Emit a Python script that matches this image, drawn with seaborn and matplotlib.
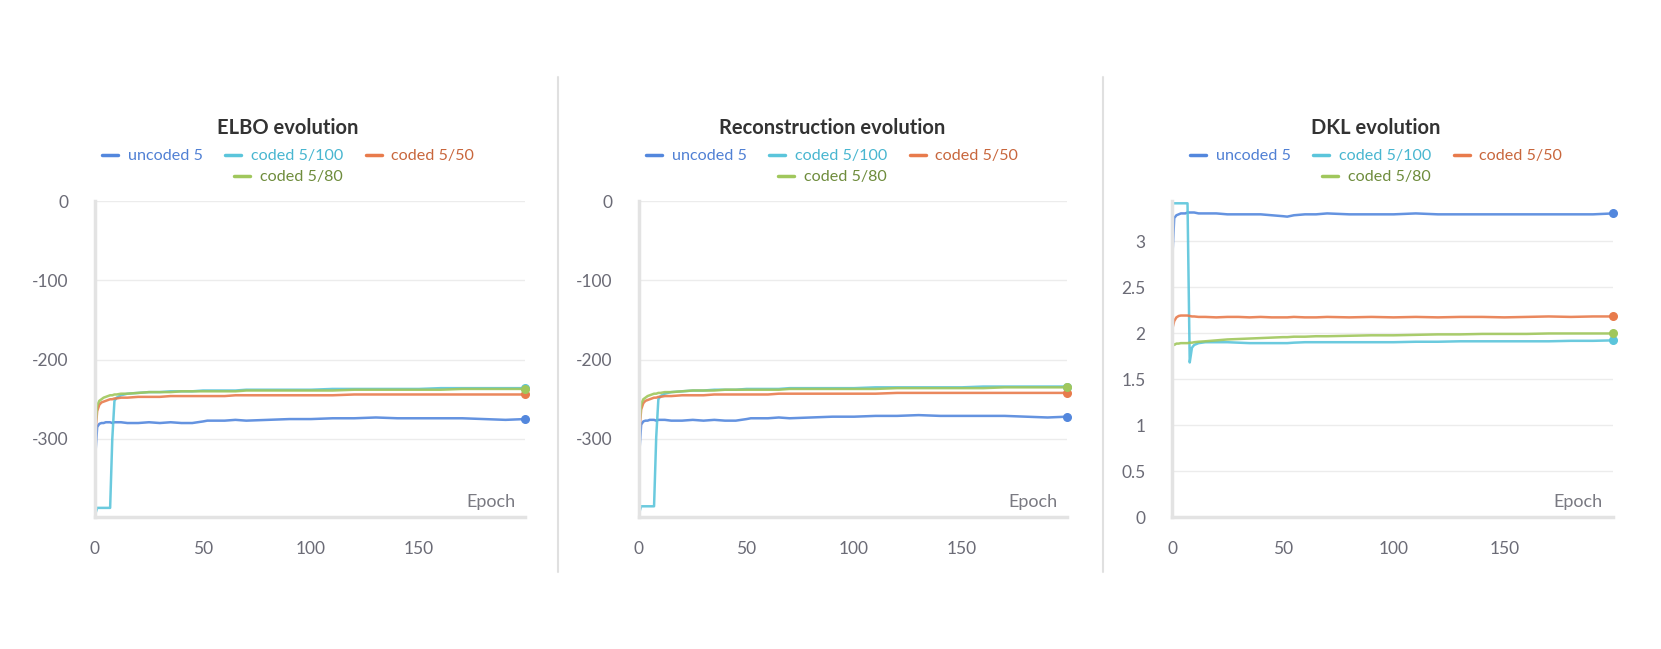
import pandas as pd
import seaborn as sns
import matplotlib.pyplot as plt
from matplotlib.lines import Line2D

epochs = [0, 1, 2, 3, 4, 5, 6, 7, 8, 9, 10, 12, 15, 20, 25, 30, 35, 40, 45, 50,
          52, 55, 60, 65, 70, 80, 90, 100, 110, 120, 130, 140, 150, 160, 170, 180, 190, 199]

runs = ["uncoded 5", "coded 5/100", "coded 5/50", "coded 5/80"]

elbo_uncoded = [-327, -285, -281, -280, -280, -279, -279, -279, -280, -279, -279, -279, -280, -280,
                -279, -280, -279, -280, -280, -278, -277, -277, -277, -276, -277, -276, -275, -275,
                -274, -274, -273, -274, -274, -274, -274, -275, -276, -275]
elbo_c100 = [-396, -387, -387, -387, -387, -387, -387, -387, -300, -252, -248, -245, -243, -242,
             -241, -241, -240, -240, -240, -239, -239, -239, -239, -239, -238, -238, -238, -238,
             -237, -237, -237, -237, -237, -236, -236, -236, -236, -236]
elbo_c50 = [-300, -265, -257, -254, -253, -252, -251, -250, -250, -249, -249, -248, -248, -247,
            -247, -247, -246, -246, -246, -246, -246, -246, -246, -245, -245, -245, -245, -245,
            -245, -244, -244, -244, -244, -244, -244, -244, -244, -244]
elbo_c80 = [-290, -258, -252, -250, -248, -247, -246, -245, -245, -244, -244, -243, -243, -242,
            -241, -241, -241, -240, -240, -240, -240, -240, -240, -240, -239, -239, -239, -239,
            -239, -238, -238, -238, -238, -238, -237, -237, -237, -237]

rec_uncoded = [-324, -282, -278, -277, -277, -276, -276, -276, -277, -276, -276, -276, -277, -277,
               -276, -277, -276, -277, -277, -275, -274, -274, -274, -273, -274, -273, -272, -272,
               -271, -271, -270, -271, -271, -271, -271, -272, -273, -272]
rec_c100 = [-394, -385, -385, -385, -385, -385, -385, -385, -298, -250, -246, -243, -241, -240,
            -239, -239, -238, -238, -238, -237, -237, -237, -237, -237, -236, -236, -236, -236,
            -235, -235, -235, -235, -235, -234, -234, -234, -234, -234]
rec_c50 = [-298, -263, -255, -252, -251, -250, -249, -248, -248, -247, -247, -246, -246, -245,
           -245, -245, -244, -244, -244, -244, -244, -244, -244, -243, -243, -243, -243, -243,
           -243, -242, -242, -242, -242, -242, -242, -242, -242, -242]
rec_c80 = [-288, -256, -250, -248, -246, -245, -244, -243, -243, -242, -242, -241, -241, -240,
           -239, -239, -239, -238, -238, -238, -238, -238, -238, -238, -237, -237, -237, -237,
           -237, -236, -236, -236, -236, -236, -235, -235, -235, -235]

dkl_uncoded = [2.74, 3.25, 3.28, 3.29, 3.30, 3.30, 3.30, 3.31, 3.31, 3.31, 3.31, 3.30, 3.30, 3.30,
               3.29, 3.29, 3.29, 3.29, 3.28, 3.27, 3.265, 3.28, 3.29, 3.29, 3.30, 3.29, 3.29, 3.29,
               3.30, 3.29, 3.29, 3.29, 3.29, 3.29, 3.29, 3.29, 3.29, 3.30]
dkl_c100 = [3.41, 3.41, 3.41, 3.41, 3.41, 3.41, 3.41, 3.41, 1.68, 1.84, 1.87, 1.89, 1.90, 1.90,
            1.90, 1.895, 1.89, 1.89, 1.89, 1.89, 1.89, 1.895, 1.90, 1.90, 1.90, 1.90, 1.90, 1.90,
            1.905, 1.905, 1.91, 1.91, 1.91, 1.91, 1.91, 1.915, 1.915, 1.92]
dkl_c50 = [2.03, 2.13, 2.17, 2.185, 2.19, 2.19, 2.19, 2.19, 2.185, 2.18, 2.18, 2.175, 2.175, 2.17,
           2.175, 2.175, 2.17, 2.175, 2.17, 2.17, 2.17, 2.175, 2.17, 2.17, 2.175, 2.17, 2.175, 2.17,
           2.175, 2.17, 2.175, 2.175, 2.17, 2.175, 2.18, 2.175, 2.18, 2.18]
dkl_c80 = [1.90, 1.87, 1.885, 1.885, 1.89, 1.89, 1.89, 1.89, 1.895, 1.895, 1.90, 1.905, 1.91, 1.92,
           1.93, 1.935, 1.94, 1.945, 1.95, 1.955, 1.955, 1.96, 1.96, 1.965, 1.965, 1.97, 1.975, 1.975,
           1.98, 1.985, 1.985, 1.99, 1.99, 1.99, 1.995, 1.995, 1.995, 1.995]

line_colors = ["#5387DD", "#5BC5DB", "#E87B4C", "#A0C75C"]
text_colors = ["#5080D4", "#48B6D0", "#C8663C", "#6E8C3C"]

panels = [
    ("ELBO evolution", [elbo_uncoded, elbo_c100, elbo_c50, elbo_c80], (-398.5, 0), [0, -100, -200, -300]),
    ("Reconstruction evolution", [rec_uncoded, rec_c100, rec_c50, rec_c80], (-398.5, 0), [0, -100, -200, -300]),
    ("DKL evolution", [dkl_uncoded, dkl_c100, dkl_c50, dkl_c80], (0, 3.435), [0, 0.5, 1, 1.5, 2, 2.5, 3]),
]

sns.set_theme(style="white")
plt.rcParams["font.family"] = ["Lato", "DejaVu Sans"]

W, H = 1661, 649
fig = plt.figure(figsize=(W / 100, H / 100), dpi=100)

# axes boxes in pixels (left, right)
boxes = [(95, 525), (639, 1067), (1172, 1613)]
top_px, bot_px = 201, 517
title_cx = [288, 832, 1376]

for (title, series, ylim, yticks), (l, r), cx in zip(panels, boxes, title_cx):
    ax = fig.add_axes([l / W, 1 - bot_px / H, (r - l) / W, (bot_px - top_px) / H])
    df = pd.concat([pd.DataFrame({"epoch": epochs, "value": v, "run": name})
                    for name, v in zip(runs, series)])
    sns.lineplot(data=df, x="epoch", y="value", hue="run", hue_order=runs,
                 palette=line_colors, linewidth=1.8, alpha=0.9, legend=False, ax=ax)
    for name, v, c in zip(runs, series, line_colors):
        ax.scatter([epochs[-1]], [v[-1]], s=30, color=c, zorder=5, clip_on=False)

    ax.set_xlim(0, 199)
    ax.set_ylim(*ylim)
    ax.set_xticks([0, 50, 100, 150])
    ax.set_yticks(yticks)
    ax.set_yticklabels([f"{t:g}" for t in yticks])
    ax.set_xlabel("")
    ax.set_ylabel("")
    ax.grid(axis="y", color="#ececec", linewidth=1)
    ax.set_axisbelow(True)
    for s in ["top", "right"]:
        ax.spines[s].set_visible(False)
    for s in ["left", "bottom"]:
        ax.spines[s].set_color("#e3e3e3")
        ax.spines[s].set_linewidth(2.5)
    ax.tick_params(axis="y", direction="out", length=7, width=1, color="#ececec",
                   labelcolor="#6b6b76", labelsize=12.5, pad=12)
    ax.tick_params(axis="x", direction="in", length=6, width=2, color="#e3e3e3",
                   labelcolor="#6b6b76", labelsize=12.5, pad=17)
    ax.text(0.977, 0.047, "Epoch", transform=ax.transAxes, ha="right", va="center",
            fontsize=13, color="#7a7a82")

    fig.text(cx / W, 1 - 128 / H, title, ha="center", va="center",
             fontsize=14.5, fontweight="bold", color="#333333")

    handles = [Line2D([], [], color=c, linewidth=2.5) for c in line_colors]
    leg1 = fig.legend(handles[:3], runs[:3], loc="center", bbox_to_anchor=(cx / W, 1 - 156 / H),
                      ncol=3, frameon=False, fontsize=11.6, handlelength=1.0, handletextpad=0.6,
                      columnspacing=1.4, borderpad=0, borderaxespad=0)
    for t, c in zip(leg1.get_texts(), text_colors[:3]):
        t.set_color(c)
    leg2 = fig.legend(handles[3:], runs[3:], loc="center", bbox_to_anchor=(cx / W, 1 - 177 / H),
                      ncol=1, frameon=False, fontsize=11.6, handlelength=1.0, handletextpad=0.6,
                      borderpad=0, borderaxespad=0)
    for t, c in zip(leg2.get_texts(), text_colors[3:]):
        t.set_color(c)

# panel dividers
for x in [558, 1103]:
    fig.add_artist(Line2D([x / W, x / W], [1 - 77 / H, 1 - 572 / H], color="#e0e0e0", linewidth=1.5))

fig.savefig("out.png", dpi=100, facecolor="white")
